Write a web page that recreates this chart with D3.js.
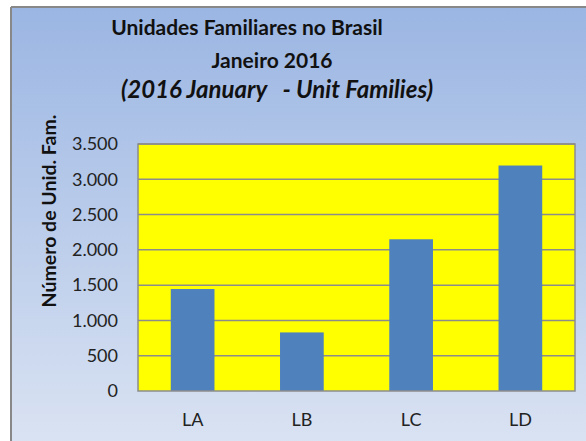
<!DOCTYPE html>
<html><head><meta charset="utf-8">
<script src="https://cdn.jsdelivr.net/npm/d3@7"></script>
<style>html,body{margin:0;padding:0;background:#fff;overflow:hidden}</style>
</head><body>
<svg id="c" width="586" height="441"></svg>
<script>
const categories = ["LA", "LB", "LC", "LD"];
const values = [1445, 830, 2150, 3195];
const yTicks = [0, 500, 1000, 1500, 2000, 2500, 3000, 3500];
const titleLines = ["Unidades Familiares no Brasil", "Janeiro 2016", "(2016 January   - Unit Families)"];
const yLabel = "Número de Unid. Fam.";

const svg = d3.select("#c");
const defs = svg.append("defs");
const g = defs.append("linearGradient").attr("id","bg").attr("x1",0).attr("y1",0).attr("x2",0).attr("y2",1);
g.append("stop").attr("offset","0%").attr("stop-color","#9bb6e3");
g.append("stop").attr("offset","100%").attr("stop-color","#dde5f3");

const FF = "Lato, 'Open Sans', sans-serif";

// frame
svg.append("rect").attr("x",11).attr("y",7).attr("width",600).attr("height",460).attr("fill","url(#bg)");
svg.append("line").attr("x1",11).attr("y1",7).attr("x2",600).attr("y2",7).attr("stroke","#888").attr("stroke-width",2);
svg.append("line").attr("x1",11).attr("y1",7).attr("x2",11).attr("y2",441).attr("stroke","#888").attr("stroke-width",2);

const L = 138, R = 575, T = 144, B = 391;
const x = d3.scaleBand().domain(categories).range([L, R]).paddingInner(0.6).paddingOuter(0.3);
const y = d3.scaleLinear().domain([0, 3500]).range([B, T]);

svg.append("rect").attr("x",L).attr("y",T).attr("width",R-L).attr("height",B-T).attr("fill","#ffff00");

// grid
svg.append("g").selectAll("line").data(yTicks.filter(d=>d>0)).join("line")
  .attr("x1",L).attr("x2",R).attr("y1",d=>y(d)).attr("y2",d=>y(d))
  .attr("stroke","#8c8c8c").attr("stroke-width",1.5);

// bars
svg.append("g").selectAll("rect").data(values).join("rect")
  .attr("x",(d,i)=>x(categories[i])).attr("width",x.bandwidth())
  .attr("y",d=>y(d)).attr("height",d=>B-y(d)).attr("fill","#4f81bd");

// plot border
svg.append("rect").attr("x",L).attr("y",T).attr("width",R-L).attr("height",B-T)
  .attr("fill","none").attr("stroke","#8c8c8c").attr("stroke-width",1.5);

// y axis
const fmt = d3.formatLocale({decimal:",", thousands:".", grouping:[3], currency:["",""]}).format(",");
const ya = d3.axisLeft(y).tickValues(yTicks).tickFormat(fmt).tickSize(0).tickPadding(20);
const yg = svg.append("g").attr("transform",`translate(${L},0)`).call(ya);
yg.select(".domain").remove();
yg.selectAll("text").attr("font-family",FF).attr("font-size",18).attr("fill","#222");

// x axis
const xa = d3.axisBottom(x).tickSize(0).tickPadding(22);
const xg = svg.append("g").attr("transform",`translate(0,${B})`).call(xa);
xg.select(".domain").remove();
xg.selectAll("text").attr("font-family",FF).attr("font-size",18).attr("fill","#222");

// titles
const tPos = [[247,35,"normal",21],[272,68,"normal",21],[277,98,"italic",24]];
titleLines.forEach((t,i)=>{
  svg.append("text").attr("x",tPos[i][0]).attr("y",tPos[i][1]).attr("text-anchor","middle")
    .style("white-space","pre")
    .attr("font-family",FF).attr("font-weight","bold")
    .attr("font-style",tPos[i][2]).attr("font-size",tPos[i][3]).attr("fill","#111").text(t);
});

// y label
svg.append("text").attr("transform","translate(56,211) rotate(-90)").attr("text-anchor","middle")
  .attr("font-family",FF).attr("font-weight","bold").attr("font-size",19.5)
  .attr("fill","#111").text(yLabel);
</script>
</body></html>
